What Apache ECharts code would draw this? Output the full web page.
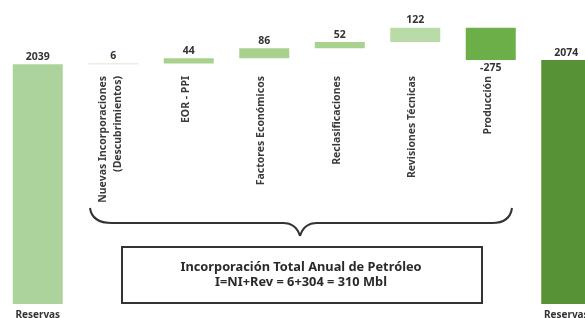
<!DOCTYPE html>
<html>
<head>
<meta charset="utf-8">
<script src="https://cdn.jsdelivr.net/npm/echarts@6/dist/echarts.min.js"></script>
<style>
  html, body { margin: 0; padding: 0; background: #fff; overflow: hidden; }
  #chart { width: 585px; height: 318px; }
</style>
</head>
<body>
<div id="chart"></div>
<script>
const categories = ['Reservas\n1/1/2023', 'Nuevas Incorporaciones\n(Descubrimientos)', 'EOR - PPI', 'Factores Económicos', 'Reclasificaciones', 'Revisiones Técnicas', 'Producción', 'Reservas\n1/1/2024']
const values = [2039, 6, 44, 86, 52, 122, -275, 2074]
const isTotal = [true, false, false, false, false, false, false, true]
const barColors = ['#add39d', '#c9e3bb', '#a9d18e', '#a9d18e', '#a9d18e', '#b9dba8', '#6cae47', '#579236']
const boxTitle = 'Incorporación Total Anual de Petróleo'
const boxFormula = 'I=NI+Rev = 6+304 = 310 Mbl'

// waterfall: transparent base + visible part
const base = []
const shown = []
let running = 0
values.forEach((v, i) => {
  if (isTotal[i]) {
    base.push(0)
    shown.push(v)
    running = v
  } else if (v >= 0) {
    base.push(running)
    shown.push(v)
    running += v
  } else {
    running += v
    base.push(running)
    shown.push(-v)
  }
})

const chart = echarts.init(document.getElementById('chart'))

chart.setOption({
  animation: false,
  grid: { left: 0, width: 604, top: 10, bottom: 14, outerBoundsMode: 'none', containLabel: false },
  xAxis: {
    type: 'category',
    data: categories,
    axisLine: { show: false },
    axisTick: { show: false },
    axisLabel: {
      interval: 0,
      margin: 6,
      fontFamily: 'Noto Sans',
      fontSize: 10,
      fontWeight: 'bold',
      color: '#333',
      formatter: (v, i) => isTotal[i] ? v : ''
    }
  },
  yAxis: { type: 'value', min: 0, max: 2500, show: false, splitLine: { show: false } },
  series: [
    {
      type: 'bar',
      stack: 'wf',
      barWidth: 50,
      itemStyle: { color: 'transparent' },
      data: base,
      silent: true
    },
    {
      type: 'bar',
      stack: 'wf',
      barWidth: 50,
      data: shown.map((v, i) => ({
        value: v,
        itemStyle: { color: barColors[i] },
        label: { position: values[i] < 0 ? 'bottom' : 'top' }
      })),
      label: {
        show: true,
        distance: 2,
        fontFamily: 'Noto Sans',
        fontSize: 10.5,
        fontWeight: 'bold',
        color: '#333',
        formatter: p => values[p.dataIndex]
      }
    }
  ]
})

// rotated category labels under the small bars
const graphics = []
categories.forEach((c, i) => {
  if (isTotal[i]) return
  const x = chart.convertToPixel({ xAxisIndex: 0 }, i)
  graphics.push({
    type: 'text',
    x: x - 3,
    y: 76,
    rotation: Math.PI / 2,
    style: {
      text: c,
      align: 'right',
      verticalAlign: 'middle',
      fontFamily: 'Noto Sans',
      fontSize: 10.5,
      fontWeight: 'bold',
      lineHeight: 15,
      fill: '#3a3a3a'
    }
  })
})

// brace made of curves and straight runs
const braceStyle = { fill: 'none', stroke: '#333', lineWidth: 2 }
const braceParts = [
  { type: 'bezierCurve', shape: { x1: 90, y1: 208, cpx1: 92, cpy1: 223, x2: 112, y2: 223 } },
  { type: 'line', shape: { x1: 112, y1: 223, x2: 283, y2: 223 } },
  { type: 'bezierCurve', shape: { x1: 283, y1: 223, cpx1: 296, cpy1: 223, x2: 300, y2: 236 } },
  { type: 'bezierCurve', shape: { x1: 300, y1: 236, cpx1: 304, cpy1: 223, x2: 317, y2: 223 } },
  { type: 'line', shape: { x1: 317, y1: 223, x2: 492, y2: 223 } },
  { type: 'bezierCurve', shape: { x1: 492, y1: 223, cpx1: 510, cpy1: 223, x2: 512, y2: 208 } }
]
braceParts.forEach(p => graphics.push({ ...p, style: braceStyle }))

graphics.push({
  type: 'rect',
  shape: { x: 122, y: 247, width: 360, height: 56 },
  style: { fill: '#fff', stroke: '#333', lineWidth: 2 }
})
graphics.push({
  type: 'text',
  x: 301,
  y: 275,
  style: {
    text: boxTitle + '\n' + boxFormula,
    align: 'center',
    verticalAlign: 'middle',
    fontFamily: 'Noto Sans',
    fontSize: 12.8,
    fontWeight: 'bold',
    lineHeight: 15,
    fill: '#2a2a2a'
  }
})

chart.setOption({ graphic: graphics })
</script>
</body>
</html>
